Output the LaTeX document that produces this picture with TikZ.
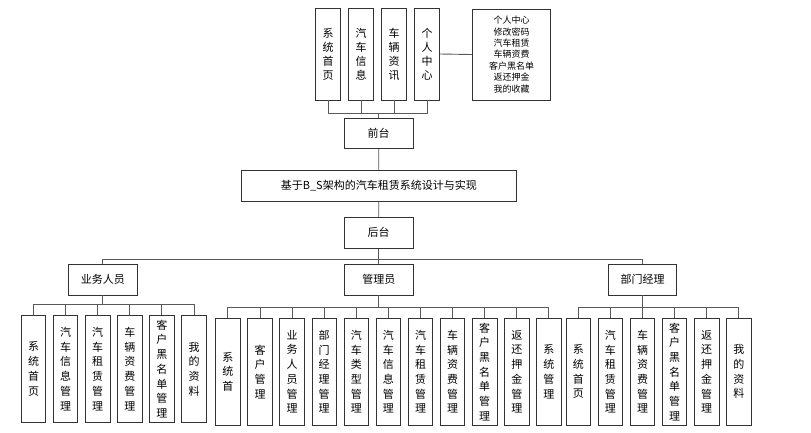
\documentclass[tikz,border=0pt]{standalone}
\usepackage{fontspec}
\setmainfont{Noto Sans CJK SC}
\usetikzlibrary{positioning, calc}

\begin{document}
\begin{tikzpicture}[x=1pt, y=-1pt,
  box/.style={draw=black!80, line width=0.9pt, minimum width=69pt, minimum height=30.5pt,
              inner sep=0pt, align=center, font=\fontsize{11}{13}\selectfont},
  vbox/.style={draw=black!80, line width=0.9pt, minimum width=24.5pt, minimum height=107pt,
               inner sep=0pt, align=center, font=\fontsize{11}{14.7}\selectfont},
  topbox/.style={vbox, minimum width=25pt, minimum height=92pt, font=\fontsize{11}{14}\selectfont},
  link/.style={draw=black!65, line width=0.9pt}
]
\useasboundingbox (0,0) rectangle (811,432);
%% FRONT
\node[topbox] (t1) at (328,54) {系\\统\\首\\页};
\node[topbox,right=7.1pt of t1] (t2) {汽\\车\\信\\息};
\node[topbox,right=7.1pt of t2] (t3) {车\\辆\\资\\讯};
\node[topbox,right=7.1pt of t3] (t4) {个\\人\\中\\心};
\node[box,minimum width=78.5pt,minimum height=91pt,font=\fontsize{9}{11.4}\selectfont] (grzx) at (511.5,54.5)
  {个人中心\\修改密码\\汽车租赁\\车辆资费\\客户黑名单\\返还押金\\我的收藏};
\node[box] (qt) at (378.7,133.3) {前台};
\draw[link](t4.east)--(grzx.west);
\draw[link](t1.south)--++(0,12.7)-|(qt.north); \draw[link](t2.south)--++(0,12.7)-|(qt.north);
\draw[link](t3.south)--++(0,12.7)-|(qt.north); \draw[link](t4.south)--++(0,12.7)-|(qt.north);
%% TITLE
\node[box,minimum width=275.5pt] (sys) at (378.8,185.9) {基于B\_S架构的汽车租赁系统设计与实现};
\node[box,minimum height=31pt] (ht) at (378.7,232.8) {后台};
\draw[link](qt)--(sys); \draw[link](sys)--(ht);
%% BACK
\node[box] (ywry) at (102.8,279.7) {业务人员};
\node[box] (gly)  at (378.8,279.7) {管理员};
\node[box,minimum width=68.5pt] (bmjl) at (642.5,279.7) {部门经理};
\draw[link](ht.south)--++(0,10.7)-|(ywry.north);
\draw[link](ht.south)--++(0,10.7)-|(gly.north);
\draw[link](ht.south)--++(0,10.7)-|(bmjl.north);
%% SALES STAFF
\node[vbox,minimum height=107.7pt] (l1) at (33.5,368.9) {系\\统\\首\\页};
\node[vbox,minimum height=107.7pt,right=6.7pt of l1] (l2) {汽\\车\\信\\息\\管\\理};
\node[vbox,minimum height=107.7pt,right=6.7pt of l2] (l3) {汽\\车\\租\\赁\\管\\理};
\node[vbox,minimum height=107.7pt,right=6.7pt of l3] (l4) {车\\辆\\资\\费\\管\\理};
\node[vbox,minimum height=107.7pt,right=6.7pt of l4] (l5) {客\\户\\黑\\名\\单\\管\\理};
\node[vbox,minimum height=107.7pt,right=6.7pt of l5] (l6) {我\\的\\资\\料};
\draw[link](ywry.south)--++(0,9)-|(l1.north); \draw[link](ywry.south)--++(0,9)-|(l2.north);
\draw[link](ywry.south)--++(0,9)-|(l3.north); \draw[link](ywry.south)--++(0,9)-|(l4.north);
\draw[link](ywry.south)--++(0,9)-|(l5.north); \draw[link](ywry.south)--++(0,9)-|(l6.north);
%% ADMIN
\node[vbox] (m1) at (227.9,371.7) {系\\统\\首};
\node[vbox,right=6.7pt of m1]  (m2)  {客\\户\\管\\理};
\node[vbox,right=6.7pt of m2]  (m3)  {业\\务\\人\\员\\管\\理};
\node[vbox,right=6.7pt of m3]  (m4)  {部\\门\\经\\理\\管\\理};
\node[vbox,right=6.7pt of m4]  (m5)  {汽\\车\\类\\型\\管\\理};
\node[vbox,right=6.7pt of m5]  (m6)  {汽\\车\\信\\息\\管\\理};
\node[vbox,right=6.7pt of m6]  (m7)  {汽\\车\\租\\赁\\管\\理};
\node[vbox,right=6.7pt of m7]  (m8)  {车\\辆\\资\\费\\管\\理};
\node[vbox,right=6.7pt of m8]  (m9)  {客\\户\\黑\\名\\单\\管\\理};
\node[vbox,right=6.7pt of m9]  (m10) {返\\还\\押\\金\\管\\理};
\node[vbox,right=6.7pt of m10] (m11) {系\\统\\管\\理};
\draw[link](gly.south)--++(0,11.7)-|(m1.north); \draw[link](gly.south)--++(0,11.7)-|(m2.north);
\draw[link](gly.south)--++(0,11.7)-|(m3.north); \draw[link](gly.south)--++(0,11.7)-|(m4.north);
\draw[link](gly.south)--++(0,11.7)-|(m5.north); \draw[link](gly.south)--++(0,11.7)-|(m6.north);
\draw[link](gly.south)--++(0,11.7)-|(m7.north); \draw[link](gly.south)--++(0,11.7)-|(m8.north);
\draw[link](gly.south)--++(0,11.7)-|(m9.north); \draw[link](gly.south)--++(0,11.7)-|(m10.north);
\draw[link](gly.south)--++(0,11.7)-|(m11.north);
%% DEPARTMENT MANAGER
\node[vbox] (r1) at (578.3,371.7) {系\\统\\首\\页};
\node[vbox,right=6.7pt of r1] (r2) {汽\\车\\租\\赁\\管\\理};
\node[vbox,right=6.7pt of r2] (r3) {车\\辆\\资\\费\\管\\理};
\node[vbox,right=6.7pt of r3] (r4) {客\\户\\黑\\名\\单\\管\\理};
\node[vbox,right=6.7pt of r4] (r5) {返\\还\\押\\金\\管\\理};
\node[vbox,right=6.7pt of r5] (r6) {我\\的\\资\\料};
\draw[link](bmjl.south)--++(0,11.7)-|(r1.north); \draw[link](bmjl.south)--++(0,11.7)-|(r2.north);
\draw[link](bmjl.south)--++(0,11.7)-|(r3.north); \draw[link](bmjl.south)--++(0,11.7)-|(r4.north);
\draw[link](bmjl.south)--++(0,11.7)-|(r5.north); \draw[link](bmjl.south)--++(0,11.7)-|(r6.north);
\end{tikzpicture}
\end{document}
